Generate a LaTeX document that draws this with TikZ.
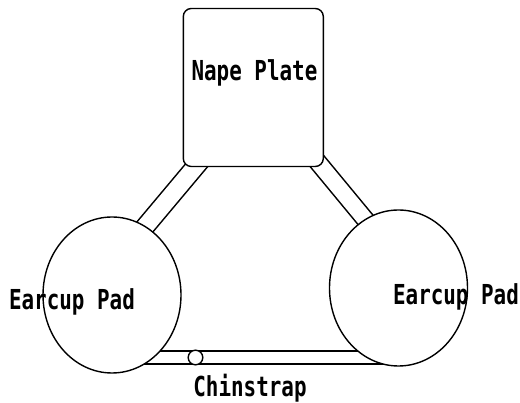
\documentclass[tikz,border=0pt]{standalone}
\usepackage{fontspec}
\newfontfamily\platefont[FakeStretch=0.76]{DejaVu Sans Mono Bold}
\usetikzlibrary{shapes.geometric,backgrounds,calc}

\begin{document}
\begin{tikzpicture}[x=1pt,y=-1pt,line width=1.4pt,
  part/.style={draw,fill=white,inner sep=0pt},
  pad/.style={part,ellipse,minimum width=138pt,minimum height=156pt},
  plate/.style={part,rectangle,rounded corners=8pt,minimum width=140pt,minimum height=158pt},
  buckle/.style={part,circle,minimum size=14.6pt},
  tag/.style={font=\platefont\fontsize{27.5}{27.5}\selectfont,inner sep=0pt,anchor=base},
  strap/.style={line width=1.55pt,double,double distance=#1,shorten <=-14pt,shorten >=-14pt}]
\useasboundingbox (0,0) rectangle (520,403);

% helmet parts
\node[plate] (np) at (253.3,87.5) {};
\node[pad] (lp) at (112,295) {};
\node[pad] (rp) at (398.5,288) {};

% straps run behind the parts
\begin{scope}[on background layer]
  \draw[strap=17pt] ($(np.south west)+(12.4,0)$) -- (lp.64.6);
  \draw[strap=15.8pt] ($(np.south east)+(-2,0)$) -- (rp.116.1);
  \draw[strap=11.4pt] ($(lp.center)+(40,62.5)$) -- ($(rp.center)+(-30,69.5)$);
\end{scope}

\node[buckle] (bk) at (195.5,357.5) {};

% labels
\node[tag] (nplabel) at (254.5,81) {Nape Plate};
\node[tag] (lplabel) at (72,310) {Earcup Pad};
\node[tag] (rplabel) at (456,305) {Earcup Pad};
\node[tag] (cslabel) at (250,397) {Chinstrap};
\end{tikzpicture}
\end{document}
